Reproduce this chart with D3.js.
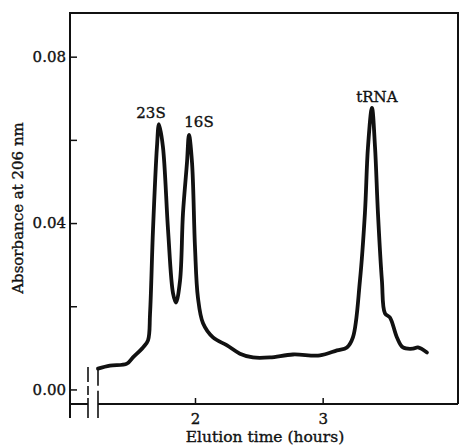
<!DOCTYPE html>
<html>
<head>
<meta charset="utf-8">
<script src="https://cdn.jsdelivr.net/npm/d3@7.9.0/dist/d3.min.js"></script>
<style>
  html, body { margin: 0; padding: 0; background: #fff; }
  svg text { font-family: "DejaVu Serif", "Liberation Serif", serif; fill: #111; stroke: #111; stroke-width: 0.35px; }
</style>
</head>
<body>
<div id="chart"></div>
<script>
// Elution time (hours) and absorbance at 206 nm
const elutionTime = [1.240, 1.334, 1.467, 1.514, 1.593, 1.632, 1.648, 1.671, 1.702, 1.718,
  1.749, 1.789, 1.828, 1.851, 1.883, 1.906, 1.937, 1.953, 1.977, 2.000,
  2.023, 2.063, 2.141, 2.251, 2.352, 2.454, 2.587, 2.767, 2.979, 3.112,
  3.190, 3.237, 3.292, 3.331, 3.355, 3.386, 3.410, 3.433, 3.464, 3.488,
  3.527, 3.582, 3.629, 3.707, 3.746, 3.817];
const absorbance = [0.0050, 0.0057, 0.0062, 0.0077, 0.0101, 0.0118, 0.0183, 0.0383, 0.0583, 0.0638,
  0.0583, 0.0383, 0.0231, 0.0209, 0.0262, 0.0424, 0.0544, 0.0612, 0.0544, 0.0342,
  0.0221, 0.0159, 0.0125, 0.0106, 0.0086, 0.0077, 0.0077, 0.0084, 0.0082, 0.0094,
  0.0101, 0.0125, 0.0262, 0.0424, 0.0583, 0.0677, 0.0583, 0.0424, 0.0262, 0.0183,
  0.0173, 0.0125, 0.0101, 0.0098, 0.0101, 0.0089];

const xTicks = [2, 3];
const yTicks = [0, 0.02, 0.04, 0.06, 0.08];
const yTickLabels = ['0.00', '', '0.04', '', '0.08'];

const peakNames = ['23S', '16S', 'tRNA'];
const peakTimes = [1.718, 1.953, 3.386];
const peakHeights = [0.0638, 0.0612, 0.0677];

const width = 459, height = 448;
const frame = { left: 70, right: 458, top: 13, bottom: 404 };

const x = d3.scaleLinear().domain([1.021, 4.06]).range([frame.left, frame.right]);
const y = d3.scaleLinear().domain([-0.0035, 0.0905]).range([frame.bottom, frame.top]);

const svg = d3.select('#chart').append('svg')
  .attr('width', width)
  .attr('height', height);

// frame (top, right, left) – bottom drawn separately because of the break
svg.append('path')
  .attr('d', `M${frame.left},418 V${frame.top} H${frame.right} V${frame.bottom}`)
  .attr('fill', 'none')
  .attr('stroke', '#111')
  .attr('stroke-width', 2);

// bottom axis with scale break
const breakA = 88, breakB = 98;
svg.append('line')
  .attr('x1', frame.left).attr('x2', breakA)
  .attr('y1', frame.bottom).attr('y2', frame.bottom)
  .attr('stroke', '#111').attr('stroke-width', 2);
svg.append('line')
  .attr('x1', breakB).attr('x2', frame.right)
  .attr('y1', frame.bottom).attr('y2', frame.bottom)
  .attr('stroke', '#111').attr('stroke-width', 2);

// break marks
svg.append('line')
  .attr('x1', breakA).attr('x2', breakA)
  .attr('y1', 367).attr('y2', 418)
  .attr('stroke', '#111').attr('stroke-width', 1.6)
  .attr('stroke-dasharray', '15,4,9,3,20');
svg.append('line')
  .attr('x1', breakB).attr('x2', breakB)
  .attr('y1', y(absorbance[0])).attr('y2', 418)
  .attr('stroke', '#111').attr('stroke-width', 1.6)
  .attr('stroke-dasharray', '17,5,40');

// x axis ticks (inward)
const xAxis = d3.axisBottom(x)
  .tickValues(xTicks)
  .tickSize(-6)
  .tickSizeOuter(0)
  .tickPadding(9)
  .tickFormat(d3.format('d'));
const gx = svg.append('g')
  .attr('transform', `translate(0,${frame.bottom})`)
  .call(xAxis);
gx.select('.domain').remove();
gx.selectAll('line').attr('stroke', '#111').attr('stroke-width', 1.5);
gx.selectAll('text').style('font-size', '15px').attr('fill', '#111');

// y axis ticks (inward)
const yAxis = d3.axisLeft(y)
  .tickValues(yTicks)
  .tickSize(-7)
  .tickSizeOuter(0)
  .tickPadding(4)
  .tickFormat((d, i) => yTickLabels[i]);
const gy = svg.append('g')
  .attr('transform', `translate(${frame.left},0)`)
  .call(yAxis);
gy.select('.domain').remove();
gy.selectAll('line').attr('stroke', '#111').attr('stroke-width', 1.5);
gy.selectAll('text').style('font-size', '15px').attr('fill', '#111');

// trace
const pts = elutionTime.map((t, i) => [t, absorbance[i]]);
const line = d3.line()
  .x(d => x(d[0]))
  .y(d => y(d[1]))
  .curve(d3.curveCatmullRom.alpha(0.5));
svg.append('path')
  .datum(pts)
  .attr('d', line)
  .attr('fill', 'none')
  .attr('stroke', '#111')
  .attr('stroke-width', 3.8)
  .attr('stroke-linejoin', 'round')
  .attr('stroke-linecap', 'round');

// peak labels
const labelOffsets = [[-8, -6], [10, -8], [5, -6]];
svg.selectAll('.peak')
  .data(peakNames)
  .enter()
  .append('text')
  .attr('class', 'peak')
  .attr('x', (d, i) => x(peakTimes[i]) + labelOffsets[i][0])
  .attr('y', (d, i) => y(peakHeights[i]) + labelOffsets[i][1])
  .attr('text-anchor', 'middle')
  .style('font-size', '15px')
  .text(d => d);

// axis titles
svg.append('text')
  .attr('x', 265)
  .attr('y', 442)
  .attr('text-anchor', 'middle')
  .style('font-size', '15.5px')
  .text('Elution time (hours)');

svg.append('text')
  .attr('transform', 'translate(23,208) rotate(-90)')
  .attr('text-anchor', 'middle')
  .style('font-size', '15px')
  .text('Absorbance at 206 nm');
</script>
</body>
</html>
